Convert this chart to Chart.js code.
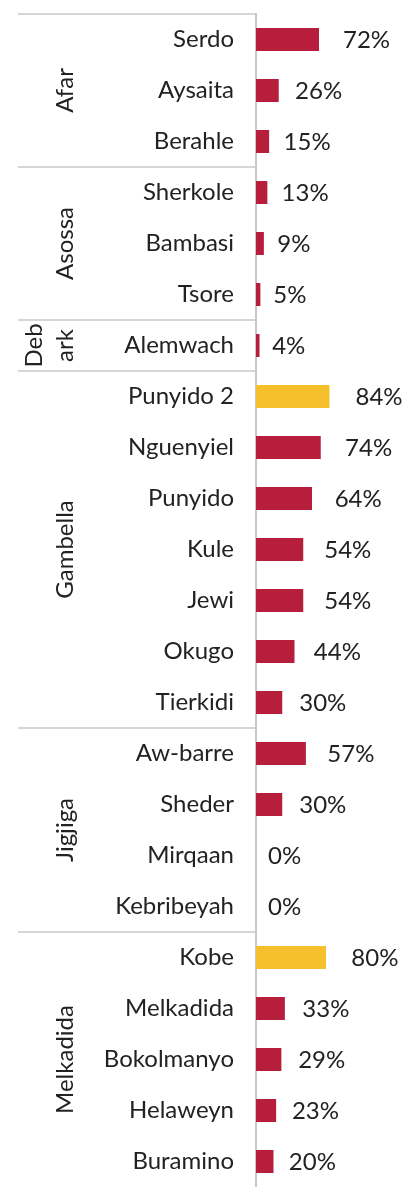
<!DOCTYPE html>
<html>
<head>
<meta charset="utf-8">
<script src="https://cdn.jsdelivr.net/npm/chart.js@4"></script>
<style>
  html, body { margin: 0; padding: 0; background: #fff; }
  #wrap { position: relative; width: 403px; height: 1187px; }
</style>
</head>
<body>
<div id="wrap"><canvas id="chart"></canvas></div>
<script>
const sites = ["Serdo", "Aysaita", "Berahle", "Sherkole", "Bambasi", "Tsore", "Alemwach",
    "Punyido 2", "Nguenyiel", "Punyido", "Kule", "Jewi", "Okugo", "Tierkidi",
    "Aw-barre", "Sheder", "Mirqaan", "Kebribeyah",
    "Kobe", "Melkadida", "Bokolmanyo", "Helaweyn", "Buramino"];
const values = [72, 26, 15, 13, 9, 5, 4, 84, 74, 64, 54, 54, 44, 30, 57, 30, 0, 0, 80, 33, 29, 23, 20];
const highlighted = ["Punyido 2", "Kobe"];

const groups = [["Afar"], ["Asossa"], ["Deb", "ark"], ["Gambella"], ["Jigjiga"], ["Melkadida"]];
const groupSizes = [3, 3, 1, 7, 4, 5];

const RED = "#b71e3c", YELLOW = "#f5c02b", LINE = "#c8c8c8", TEXT = "#222";
const FONT = "Lato, 'Open Sans', sans-serif";

const groupPlugin = {
    id: "groups",
    afterDraw(chart) {
        const ctx = chart.ctx, ca = chart.chartArea, y = chart.scales.y;
        const half = (y.getPixelForValue(1) - y.getPixelForValue(0)) / 2;
        ctx.save();
        ctx.strokeStyle = LINE;
        ctx.lineWidth = 1.5;
        ctx.beginPath();
        ctx.moveTo(18, ca.top);
        ctx.lineTo(ca.left, ca.top);
        ctx.stroke();

        let start = 0;
        groups.forEach((lines, g) => {
            const end = start + groupSizes[g] - 1;
            const yTop = y.getPixelForValue(start) - half;
            const yBot = y.getPixelForValue(end) + half;
            if (g < groups.length - 1) {
                ctx.beginPath();
                ctx.moveTo(18, yBot);
                ctx.lineTo(ca.left, yBot);
                ctx.stroke();
            }
            ctx.fillStyle = TEXT;
            ctx.font = "24px " + FONT;
            ctx.textAlign = "center";
            ctx.textBaseline = "middle";
            lines.forEach((t, i) => {
                ctx.save();
                ctx.translate(65 - (lines.length - 1 - i) * 31, (yTop + yBot) / 2);
                ctx.rotate(-Math.PI / 2);
                ctx.fillText(t, 0, 0);
                ctx.restore();
            });
            start = end + 1;
        });

        // value labels
        const x = chart.scales.x;
        ctx.textAlign = "left";
        ctx.font = "24px " + FONT;
        values.forEach((v, i) => {
            ctx.fillText(v + "%", x.getPixelForValue(v * 1.19) + 12, y.getPixelForValue(i) + 1);
        });
        ctx.restore();
    }
};

new Chart(document.getElementById("chart"), {
    type: "bar",
    data: {
        labels: sites,
        datasets: [{
            data: values,
            backgroundColor: sites.map(s => highlighted.includes(s) ? YELLOW : RED),
            categoryPercentage: 1,
            barPercentage: 0.45
        }]
    },
    options: {
        indexAxis: "y",
        responsive: true,
        maintainAspectRatio: false,
        animation: false,
        layout: { padding: { top: 14, left: 0, right: 0, bottom: 0 } },
        plugins: { legend: { display: false }, tooltip: { enabled: false } },
        scales: {
            x: {
                min: 0, max: 168,
                display: false
            },
            y: {
                afterFit(scale) {
                    scale.width = 256;
                    scale.paddingTop = 0;
                    scale.paddingBottom = 0;
                },
                grid: { display: false, drawTicks: false },
                border: { display: true, color: LINE, width: 2 },
                ticks: { color: TEXT, padding: 22, font: { family: FONT, size: 24 } }
            }
        }
    },
    plugins: [groupPlugin]
});
</script>
</body>
</html>
